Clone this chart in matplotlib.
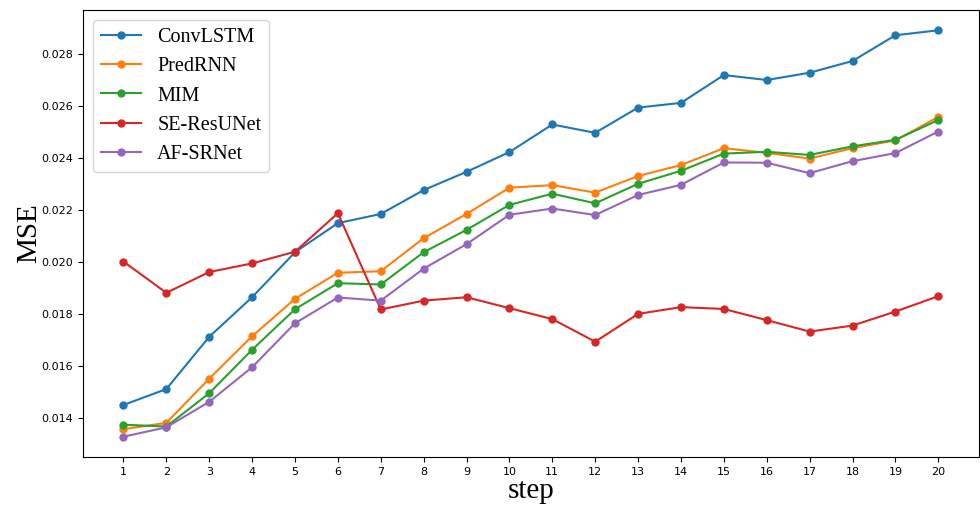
import matplotlib
matplotlib.use("Agg")
import matplotlib.pyplot as plt

steps = list(range(1, 21))

convlstm = [0.01451, 0.01512, 0.01713, 0.01865, 0.02038, 0.02150, 0.02185, 0.02277, 0.02347, 0.02423,
            0.02529, 0.02497, 0.02594, 0.02612, 0.02719, 0.02700, 0.02728, 0.02773, 0.02872, 0.02891]
predrnn = [0.01358, 0.01382, 0.01552, 0.01715, 0.01859, 0.01959, 0.01965, 0.02092, 0.02185, 0.02286,
           0.02296, 0.02267, 0.02331, 0.02373, 0.02438, 0.02420, 0.02398, 0.02438, 0.02468, 0.02558]
mim = [0.01375, 0.01368, 0.01496, 0.01663, 0.01819, 0.01919, 0.01914, 0.02038, 0.02124, 0.02220,
       0.02263, 0.02226, 0.02301, 0.02351, 0.02417, 0.02424, 0.02412, 0.02445, 0.02470, 0.02546]
se_resunet = [0.02002, 0.01882, 0.01962, 0.01995, 0.02040, 0.02188, 0.01818, 0.01852, 0.01865, 0.01823,
              0.01781, 0.01694, 0.01801, 0.01827, 0.01820, 0.01777, 0.01733, 0.01756, 0.01810, 0.01869]
af_srnet = [0.01329, 0.01365, 0.01463, 0.01596, 0.01765, 0.01864, 0.01852, 0.01975, 0.02069, 0.02182,
            0.02206, 0.02181, 0.02258, 0.02297, 0.02383, 0.02382, 0.02342, 0.02388, 0.02419, 0.02502]

series = [("ConvLSTM", convlstm), ("PredRNN", predrnn), ("MIM", mim),
          ("SE-ResUNet", se_resunet), ("AF-SRNet", af_srnet)]

fig = plt.figure(figsize=(9.8, 5.07), dpi=100)
ax = fig.add_axes([0.0844, 0.0986, 0.9146, 0.8817])

for name, vals in series:
    ax.plot(steps, vals, marker="o", markersize=5, linewidth=1.5, label=name)

ax.set_xticks(steps)
ax.tick_params(labelsize=8)
ax.set_xlabel("step", fontfamily="Liberation Serif", fontsize=21, labelpad=1)
ax.set_ylabel("MSE", fontfamily="Liberation Serif", fontsize=21, labelpad=-1)
ax.legend(loc="upper left", prop={"family": "Liberation Serif", "size": 14.5})

fig.savefig("out.png", dpi=100)
